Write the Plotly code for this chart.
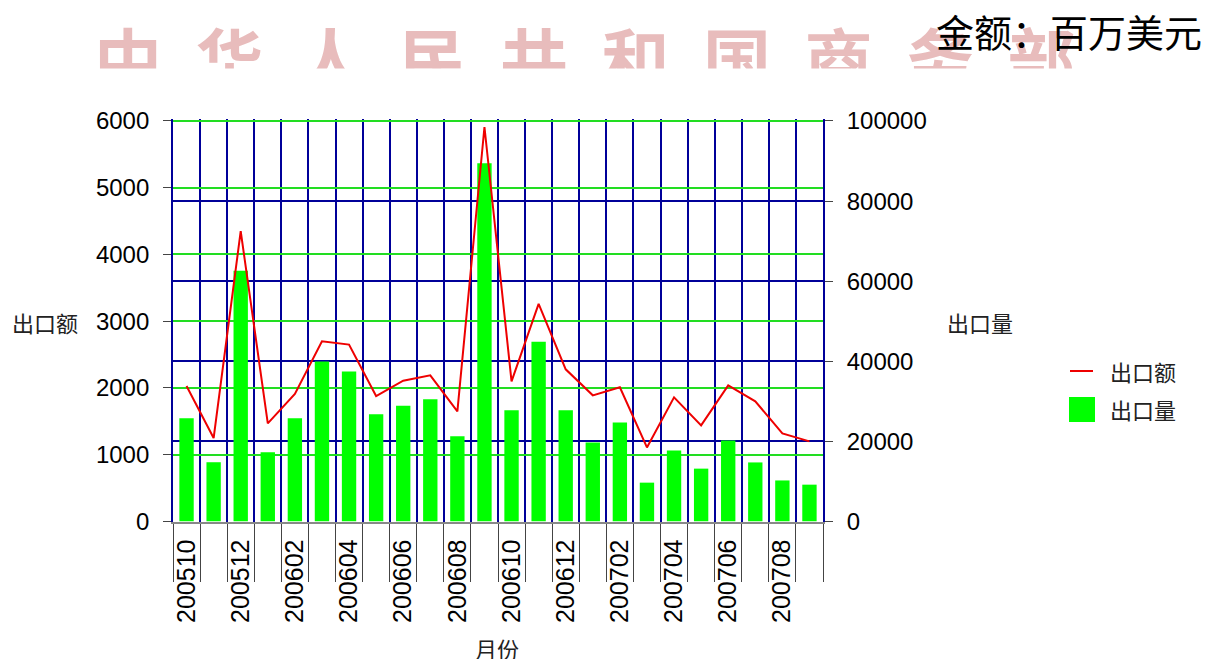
import plotly.graph_objects as go

# The page body has an 8px margin: lay out in reference pixels, shifted.
OFF = 8
W, H = 1209 - OFF, 660 - OFF


def fx(p):
    return (p - OFF) / W


def fy(p):
    return 1 - (p - OFF) / H


# ---- data ----
months = ["200510", "200511", "200512", "200601", "200602", "200603",
          "200604", "200605", "200606", "200607", "200608", "200609",
          "200610", "200611", "200612", "200701", "200702", "200703",
          "200704", "200705", "200706", "200707", "200708", "200709"]
export_value = [2030, 1250, 4350, 1470, 1910, 2700, 2650, 1880, 2110, 2190,
                1650, 5910, 2100, 3260, 2280, 1890, 2010, 1110, 1860, 1440,
                2040, 1800, 1320, 1200]
export_volume = [25800, 14800, 62600, 17300, 25800, 39950, 37450, 26800,
                 28900, 30550, 21300, 89450, 27750, 44900, 27750, 19750,
                 24750, 9700, 17750, 13200, 20250, 14750, 10250, 9200]
tick_text = [m if i % 2 == 0 else "" for i, m in enumerate(months)]
left_ticks = [0, 1000, 2000, 3000, 4000, 5000, 6000]
right_ticks = [0, 20000, 40000, 60000, 80000, 100000]

name_value = "出口额"
name_volume = "出口量"
x_title = "月份"
unit_title = "金额：百万美元"
watermark = "中华人民共和国商务部"

CJK = "Noto Sans CJK SC"
LAT = "Liberation Sans, Arial"
NAVY = "#000099"
GGRID = "#22dd22"
LIME = "#00ff00"
RED = "#ee0000"

# small headroom so the top (6000 / 100000) gridlines are not clipped away
Y_TOP_PX, Y_BOT_PX = 121, 521.5
HEAD = 1.005
top_px = Y_BOT_PX - (Y_BOT_PX - Y_TOP_PX) * HEAD

fig = go.Figure()
fig.add_trace(go.Bar(
    x=months, y=export_volume, name=name_volume,
    marker=dict(color=LIME, line=dict(width=0)),
    xaxis="x", yaxis="y", showlegend=False, hoverinfo="skip"))
fig.add_trace(go.Scatter(
    x=months, y=export_value, name=name_value, mode="lines",
    line=dict(color=RED, width=2),
    xaxis="x", yaxis="y2", showlegend=False, hoverinfo="skip"))
# watermark, clipped by its own subplot (coordinates in reference pixels)
fig.add_trace(go.Scatter(
    x=[128 + 101.5 * i for i in range(len(watermark))],
    y=[-69] * len(watermark), text=list(watermark), mode="text",
    textposition="middle center",
    textfont=dict(family=CJK, size=68, color="#e8bcbc", weight="bold"),
    cliponaxis=True, xaxis="x3", yaxis="y3", showlegend=False,
    hoverinfo="skip"))

fig.update_layout(
    width=W, height=H,
    margin=dict(l=0, r=0, t=0, b=0, pad=0, autoexpand=False),
    paper_bgcolor="white", plot_bgcolor="rgba(0,0,0,0)",
    bargap=0.47, showlegend=False,
    xaxis=dict(
        domain=[fx(173), fx(823)], type="category",
        categoryorder="array", categoryarray=months,
        tickmode="array", tickvals=months, ticktext=tick_text,
        tickson="boundaries", ticks="outside", ticklen=58, tickwidth=1,
        tickcolor="#444", tickangle=-90, ticklabelstandoff=6,
        tickfont=dict(family=LAT, size=25, color="black"),
        showgrid=True, gridcolor=NAVY, gridwidth=1.8,
        showline=True, linecolor="#888", linewidth=2,
        anchor="y", range=[-0.5, len(months) - 0.5], fixedrange=True,
        automargin=False),
    yaxis=dict(
        domain=[fy(Y_BOT_PX), fy(top_px)], range=[0, 100000 * HEAD],
        side="right", tickmode="array", tickvals=right_ticks,
        tickformat="d",
        ticks="outside", ticklen=8, tickcolor="#444", ticklabelstandoff=9,
        tickfont=dict(family=LAT, size=24, color="black"),
        showgrid=True, gridcolor=NAVY, gridwidth=1.8, zeroline=False,
        showline=True, linecolor=NAVY, linewidth=1.8,
        anchor="x", fixedrange=True, automargin=False),
    yaxis2=dict(
        overlaying="y", side="left", range=[0, 6000 * HEAD],
        tickmode="array", tickvals=left_ticks, tickformat="d",
        ticks="outside", ticklen=8, tickcolor="#444", ticklabelstandoff=9,
        tickfont=dict(family=LAT, size=24, color="black"),
        showgrid=True, gridcolor=GGRID, gridwidth=2, zeroline=False,
        showline=True, linecolor=NAVY, linewidth=1.8,
        anchor="x", fixedrange=True, automargin=False),
    xaxis3=dict(domain=[0, 1], range=[OFF, OFF + W], visible=False,
                anchor="y3", fixedrange=True),
    yaxis3=dict(domain=[fy(68.5), 1], range=[-68.5, -OFF], visible=False,
                anchor="x3", fixedrange=True),
)

ann_font = dict(family=CJK, size=22, color="#222")
annotations = [
    dict(text=unit_title, x=fx(1204), y=fy(30), xanchor="right",
         yanchor="middle", font=dict(family=CJK, size=38, color="black")),
    dict(text=name_value, x=fx(45), y=fy(322), xanchor="center",
         yanchor="middle", font=ann_font),
    dict(text=name_volume, x=fx(980), y=fy(322), xanchor="center",
         yanchor="middle", font=ann_font),
    dict(text=x_title, x=fx(497), y=fy(648), xanchor="center",
         yanchor="middle", font=ann_font, height=22, valign="middle"),
    dict(text=name_value, x=fx(1108), y=fy(371), xanchor="left",
         yanchor="middle", font=ann_font),
    dict(text=name_volume, x=fx(1108), y=fy(409), xanchor="left",
         yanchor="middle", font=ann_font),
]
for a in annotations:
    a.update(xref="paper", yref="paper", showarrow=False)
fig.update_layout(annotations=annotations)

fig.update_layout(shapes=[
    dict(type="line", xref="paper", yref="paper",
         x0=fx(1070), x1=fx(1093), y0=fy(371), y1=fy(371),
         line=dict(color=RED, width=2)),
    dict(type="rect", xref="paper", yref="paper",
         x0=fx(1069), x1=fx(1095), y0=fy(422), y1=fy(397),
         fillcolor=LIME, line=dict(width=0)),
])

fig.write_html("out.html")
